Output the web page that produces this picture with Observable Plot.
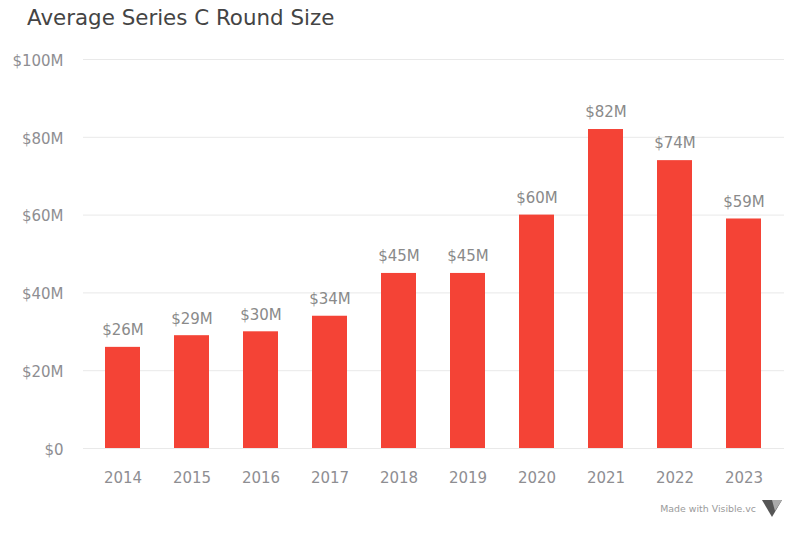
<!DOCTYPE html>
<html><head><meta charset="utf-8">
<script src="https://cdn.jsdelivr.net/npm/d3@7"></script>
<script src="https://cdn.jsdelivr.net/npm/@observablehq/plot@0.6"></script>
<style>
body{margin:0;background:#fff;font-family:"DejaVu Sans",sans-serif;width:800px;height:533px;position:relative;overflow:hidden}
#title{position:absolute;left:27px;top:5px;font-size:21.4px;color:#444;white-space:nowrap}
#chart{position:absolute;left:0;top:40px}
#wm{position:absolute;right:44px;top:503px;font-size:9.4px;color:#9a9a9a}
#logo{position:absolute;left:761px;top:499px}
</style></head>
<body>
<div id="title">Average Series C Round Size</div>
<div id="chart"></div>
<div id="wm">Made with Visible.vc</div>
<svg id="logo" width="22" height="20" viewBox="0 0 22 20"><polygon points="1,1 21,1 11,18" fill="#555"/><polygon points="11,1 21,1 14,12" fill="#aaa"/></svg>
<script>
const years = ["2014","2015","2016","2017","2018","2019","2020","2021","2022","2023"];
const values = [26,29,30,34,45,45,60,82,74,59];
const yTicks = [0,20,40,60,80,100];
const data = years.map((y,i)=>({year:y,value:values[i]}));
const fmt = d=> d===0?"$0":`$${d}M`;
const chart = Plot.plot({
  width:800, height:493,
  marginLeft:83, marginRight:16, marginTop:19, marginBottom:85,
  style:{fontFamily:"DejaVu Sans, sans-serif", fontSize:"15px", color:"#8e8e92", background:"transparent"},
  x:{domain:years, paddingInner:0.49, paddingOuter:0.31, label:null},
  y:{domain:[0,100], ticks:yTicks, label:null},
  marks:[
    Plot.ruleY(yTicks,{stroke:"#e9e9e9"}),
    Plot.axisY({ticks:yTicks, tickSize:0, tickPadding:20, dy:1.5, fontSize:15, fill:"#8e8e92", label:null, tickFormat:fmt}),
    Plot.axisX({tickSize:0, tickPadding:24, fontSize:15, fill:"#8e8e92", label:null}),
    Plot.barY(data,{x:"year", y:"value", fill:"#f44336"}),
    Plot.text(data,{x:"year", y:"value", text:d=>`$${d.value}M`, dy:-17, fontSize:15, fill:"#8a8a8a"})
  ]
});
document.getElementById("chart").appendChild(chart);
</script>
</body></html>
